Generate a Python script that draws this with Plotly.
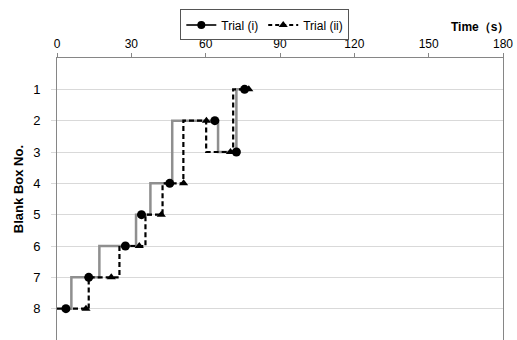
import plotly.graph_objects as go

# ---- data ----
trial1_step_t = [3.6, 5.8, 17.1, 31.9, 37.7, 46.5, 65.0, 72.4, 75.7]
trial1_step_box = [8, 7, 6, 5, 4, 2, 3, 1, 1]
trial1_mark_t = [3.6, 12.8, 27.6, 34.1, 45.5, 63.7, 72.4, 75.7]
trial1_mark_box = [8, 7, 6, 5, 4, 2, 3, 1]

trial2_step_t = [0, 12.8, 25.2, 35.7, 42.6, 51.0, 60.2, 71.1, 77.4]
trial2_step_box = [8, 7, 6, 5, 4, 2, 3, 1, 1]
trial2_mark_t = [11.7, 21.9, 33.2, 42.1, 51.1, 60.3, 70.0, 77.4]
trial2_mark_box = [8, 7, 6, 5, 4, 2, 3, 1]

x_ticks = [0, 30, 60, 90, 120, 150, 180]
y_ticks = [1, 2, 3, 4, 5, 6, 7, 8]
series_names = ["Trial (i)", "Trial (ii)"]

FONT = "Liberation Sans, Arial, sans-serif"
GRAY = "#8f8f8f"

fig = go.Figure()

# step lines
fig.add_trace(go.Scatter(x=trial1_step_t, y=trial1_step_box, mode="lines",
                         line=dict(color=GRAY, width=2.5, shape="hv"),
                         showlegend=False, hoverinfo="skip"))
fig.add_trace(go.Scatter(x=trial2_step_t, y=trial2_step_box, mode="lines",
                         line=dict(color="black", width=2.2, shape="hv", dash="5px,3px"),
                         showlegend=False, hoverinfo="skip"))
# markers
fig.add_trace(go.Scatter(x=trial1_mark_t, y=trial1_mark_box, mode="markers",
                         marker=dict(symbol="circle", size=9, color="black"),
                         showlegend=False))
fig.add_trace(go.Scatter(x=trial2_mark_t, y=trial2_mark_box, mode="markers",
                         marker=dict(symbol="triangle-up", size=8, color="black"),
                         showlegend=False))
# legend entries
fig.add_trace(go.Scatter(x=[None], y=[None], mode="lines+markers", name=series_names[0],
                         line=dict(color="#333333", width=2),
                         marker=dict(symbol="circle", size=8, color="black")))
fig.add_trace(go.Scatter(x=[None], y=[None], mode="lines+markers", name=series_names[1],
                         line=dict(color="black", width=2, dash="4px,3px"),
                         marker=dict(symbol="triangle-up", size=8, color="black")))

fig.update_layout(
    width=517, height=340,
    margin=dict(l=57, r=14, t=58, b=0),
    paper_bgcolor="white", plot_bgcolor="white",
    font=dict(family=FONT, size=12, color="black"),
    showlegend=True,
    legend=dict(orientation="h", x=0.2765, y=1.172, xanchor="left", yanchor="top",
                bordercolor="#555555", borderwidth=1, bgcolor="white",
                font=dict(family=FONT, size=12, color="black"),
                itemwidth=30, tracegroupgap=0),
    xaxis=dict(side="top", range=[0, 180], tickvals=x_ticks,
               ticks="outside", ticklen=4, tickcolor="#868686",
               showline=True, linecolor="#868686", linewidth=1,
               showgrid=False, zeroline=False,
               tickfont=dict(family=FONT, size=12, color="black")),
    yaxis=dict(range=[9, 0], tickvals=y_ticks,
               ticks="outside", ticklen=5, tickcolor="#d9d9d9",
               showline=True, linecolor="#868686", linewidth=1, mirror=True,
               showgrid=True, gridcolor="#d9d9d9", gridwidth=1, zeroline=False,
               ticklabelstandoff=8,
               tickfont=dict(family=FONT, size=13, color="black")),
    annotations=[
        dict(text="<b>Time（s）</b>", xref="paper", yref="paper", x=1, y=1,
             xanchor="right", yanchor="bottom", xshift=8, yshift=22,
             showarrow=False, font=dict(family=FONT, size=12, color="black")),
        dict(text="<b>Blank Box No.</b>", xref="paper", yref="paper", x=0, y=0.535,
             xanchor="center", yanchor="middle", xshift=-39, textangle=-90,
             showarrow=False, font=dict(family=FONT, size=13, color="black")),
    ],
)

fig.write_html("out.html")
